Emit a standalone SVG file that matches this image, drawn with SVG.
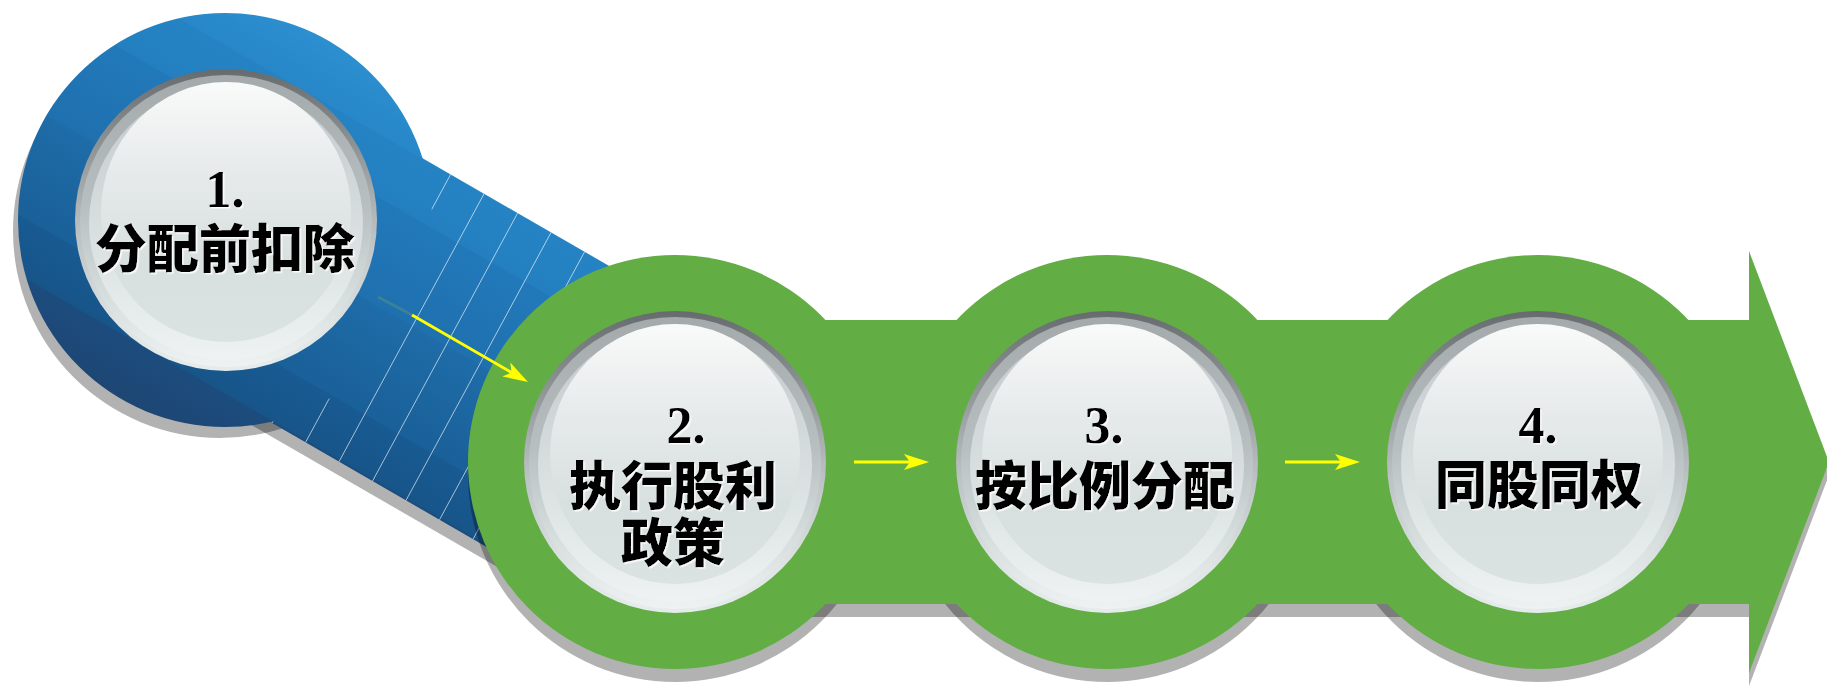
<svg xmlns="http://www.w3.org/2000/svg" width="1827" height="686" viewBox="0 0 1827 686">
<style>
.shadow{fill:#000;fill-opacity:0.3}
.green{fill:#62ae45}
.lbl{font-family:"Liberation Serif","Noto Sans CJK SC",serif;font-weight:bold;font-size:52px;fill:#000;text-anchor:middle}
.cjk{font-family:"Noto Sans CJK SC","Liberation Sans",sans-serif;font-weight:900;font-size:52px}
.conn{stroke:#ffff00;stroke-width:3;fill:none;marker-end:url(#yarrow)}
.stripe{stroke:#ffffff;stroke-opacity:0.7;stroke-width:0.9}
</style>
<defs>
<linearGradient id="blueG" gradientUnits="userSpaceOnUse" x1="328.5" y1="40.7" x2="121.5" y2="399.3">
<stop offset="0" stop-color="#2c8fd0"/>
<stop offset="0.133" stop-color="#2787c8"/>
<stop offset="0.135" stop-color="#2583c4"/>
<stop offset="0.266" stop-color="#237fc0"/>
<stop offset="0.268" stop-color="#2279ba"/>
<stop offset="0.495" stop-color="#1f70ae"/>
<stop offset="0.497" stop-color="#1e6ca8"/>
<stop offset="0.737" stop-color="#1a6099"/>
<stop offset="0.739" stop-color="#185a92"/>
<stop offset="0.862" stop-color="#175589"/>
<stop offset="0.864" stop-color="#1c4c7e"/>
<stop offset="1" stop-color="#1d4673"/>
</linearGradient>
<linearGradient id="rimG" x1="0" y1="0" x2="0" y2="1">
<stop offset="0" stop-color="#676b6d"/>
<stop offset="0.25" stop-color="#8d9395"/>
<stop offset="0.55" stop-color="#bcc2c3"/>
<stop offset="0.85" stop-color="#dfe5e5"/>
<stop offset="1" stop-color="#e6ecec"/>
</linearGradient>
<linearGradient id="ringG" x1="0" y1="0" x2="0" y2="1">
<stop offset="0" stop-color="#a4aaac"/>
<stop offset="0.45" stop-color="#b8bfc0"/>
<stop offset="0.75" stop-color="#d6dddd"/>
<stop offset="1" stop-color="#eef2f2"/>
</linearGradient>
<linearGradient id="cresG" x1="0" y1="0" x2="0" y2="1">
<stop offset="0" stop-color="#c3c9ca"/>
<stop offset="0.6" stop-color="#dce2e2"/>
<stop offset="1" stop-color="#eef2f2"/>
</linearGradient>
<linearGradient id="faceG" x1="0" y1="0" x2="0" y2="1">
<stop offset="0" stop-color="#f9fafa"/>
<stop offset="0.35" stop-color="#e6eaea"/>
<stop offset="0.7" stop-color="#d8dfdf"/>
<stop offset="1" stop-color="#dbe2e2"/>
</linearGradient>
<filter id="tsh" x="-10%" y="-20%" width="120%" height="140%">
<feDropShadow dx="1.5" dy="1.5" stdDeviation="0.6" flood-color="#ffffff" flood-opacity="0.9"/>
</filter>
<marker id="yarrow" markerUnits="userSpaceOnUse" markerWidth="26" markerHeight="18" refX="6" refY="9" orient="auto">
<path d="M25,9 L0,1 L6,9 L0,17 Z" fill="#ffff00"/>
</marker>
<g id="button">
<circle r="151" fill="url(#rimG)"/>
<circle r="146" cy="1" fill="url(#ringG)"/>
<circle r="137" cy="3" fill="url(#cresG)"/>
<ellipse rx="125" ry="130" cy="-8" fill="url(#faceG)"/>
</g>
</defs>

<g id="blue-shape">
<g transform="translate(-5,11)">
<circle class="shadow" cx="225" cy="220" r="207"/>
<polygon class="shadow" points="301,88 734,338 582,602 149,352"/>
</g>
<polygon points="301,88 734,338 582,602 149,352" fill="url(#blueG)"/>
<g id="band-stripes">
<line class="stripe" x1="417.0" y1="155.0" x2="272.0" y2="423.0"/>
<line class="stripe" x1="450.6" y1="174.4" x2="305.5" y2="442.4"/>
<line class="stripe" x1="484.1" y1="193.7" x2="339.0" y2="461.7"/>
<line class="stripe" x1="517.6" y1="213.1" x2="372.5" y2="481.1"/>
<line class="stripe" x1="551.1" y1="232.4" x2="406.0" y2="500.4"/>
<line class="stripe" x1="584.6" y1="251.8" x2="439.5" y2="519.8"/>
<line class="stripe" x1="618.1" y1="271.1" x2="473.1" y2="539.1"/>
<line class="stripe" x1="651.6" y1="290.5" x2="506.6" y2="558.5"/>
<line class="stripe" x1="685.2" y1="309.8" x2="540.1" y2="577.8"/>
</g>
<circle cx="225" cy="220" r="207" fill="url(#blueG)"/>
</g>

<g id="green-shape">
<g transform="translate(0,13)">
<circle class="shadow" cx="675" cy="462" r="207"/>
<circle class="shadow" cx="1107" cy="462" r="207"/>
<circle class="shadow" cx="1538" cy="462" r="207"/>
<rect class="shadow" x="675" y="320" width="1075" height="284"/>
<polygon class="shadow" points="1749,251 1829,462 1749,673"/>
</g>
<circle class="green" cx="675" cy="462" r="207"/>
<circle class="green" cx="1107" cy="462" r="207"/>
<circle class="green" cx="1538" cy="462" r="207"/>
<rect class="green" x="675" y="320" width="1075" height="284"/>
<polygon class="green" points="1749,251 1829,462 1749,673"/>
</g>

<g id="connectors">
<line x1="378" y1="297" x2="412" y2="315" stroke="#ffff00" stroke-opacity="0.12" stroke-width="3"/>
<line class="conn" x1="412" y1="315" x2="511.5" y2="372.5"/>
<line class="conn" x1="854" y1="462" x2="910" y2="462"/>
<line class="conn" x1="1285" y1="462" x2="1341" y2="462"/>
</g>

<g id="node1">
<use href="#button" x="226" y="220"/>
<text class="lbl" filter="url(#tsh)"><tspan x="225" y="207">1.</tspan><tspan class="cjk" x="225" y="268">分配前扣除</tspan></text>
</g>

<g id="node2">
<use href="#button" x="675" y="462"/>
<text class="lbl" filter="url(#tsh)"><tspan x="686" y="443">2.</tspan><tspan class="cjk" x="673" y="505">执行股利</tspan><tspan class="cjk" x="673" y="562">政策</tspan></text>
</g>

<g id="node3">
<use href="#button" x="1107" y="462"/>
<text class="lbl" filter="url(#tsh)"><tspan x="1104" y="443">3.</tspan><tspan class="cjk" x="1105" y="505">按比例分配</tspan></text>
</g>

<g id="node4">
<use href="#button" x="1538" y="462"/>
<text class="lbl" filter="url(#tsh)"><tspan x="1538" y="443">4.</tspan><tspan class="cjk" x="1539" y="504">同股同权</tspan></text>
</g>
</svg>
